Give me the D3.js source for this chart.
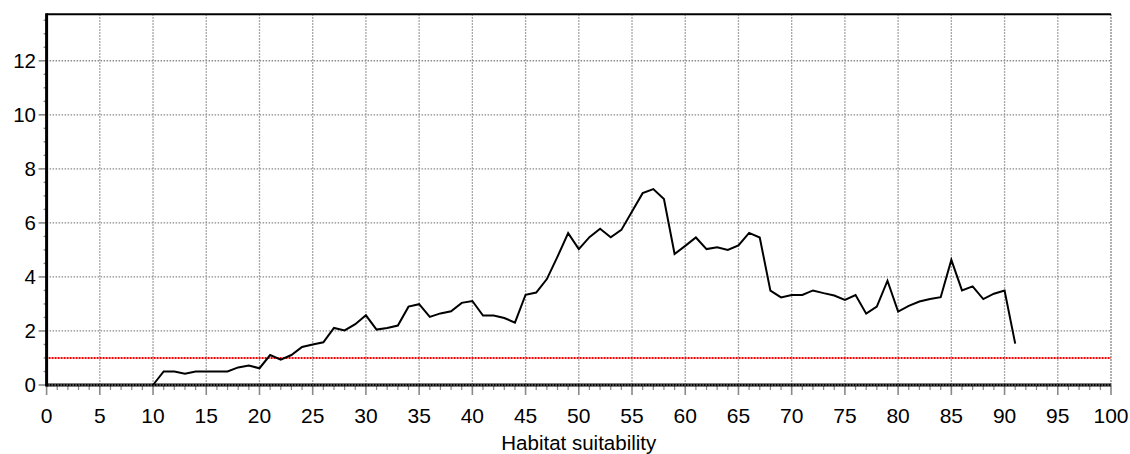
<!DOCTYPE html>
<html><head><meta charset="utf-8">
<script src="https://cdn.jsdelivr.net/npm/d3@7"></script>
<style>
html,body{margin:0;padding:0;background:#fff;}
svg{display:block;font-family:"Liberation Sans",Arial,sans-serif;}
</style></head>
<body>
<svg id="chart" width="1130" height="454"></svg>
<script>
// Data
const suitability = [10,11,12,13,14,15,16,17,18,19,20,21,22,23,24,25,26,27,28,29,30,31,32,33,34,35,36,37,38,39,40,41,42,43,44,45,46,47,48,49,50,51,52,53,54,55,56,57,58,59,60,61,62,63,64,65,66,67,68,69,70,71,72,73,74,75,76,77,78,79,80,81,82,83,84,85,86,87,88,89,90,91];
const ratio = [0,0.5,0.5,0.42,0.5,0.5,0.5,0.5,0.65,0.72,0.62,1.11,0.94,1.11,1.41,1.5,1.58,2.11,2.02,2.25,2.58,2.05,2.11,2.2,2.9,2.99,2.52,2.65,2.73,3.04,3.11,2.57,2.57,2.48,2.31,3.34,3.42,3.92,4.75,5.62,5.03,5.47,5.78,5.47,5.74,6.42,7.1,7.25,6.88,4.85,5.15,5.46,5.03,5.1,5.0,5.17,5.63,5.46,3.49,3.24,3.33,3.33,3.5,3.4,3.31,3.15,3.33,2.64,2.9,3.86,2.72,2.93,3.09,3.18,3.25,4.63,3.5,3.65,3.18,3.38,3.5,1.53];
const xTicks = [0,5,10,15,20,25,30,35,40,45,50,55,60,65,70,75,80,85,90,95,100];
const yTicks = [0,2,4,6,8,10,12];
const referenceLevel = 1;
const xLabel = "Habitat suitability";

const svg = d3.select("#chart");
const L = 46.6, R = 1111, T = 14.3, B = 385;
const x = d3.scaleLinear().domain([0,100]).range([L,R]);
const y = d3.scaleLinear().domain([0,13.72]).range([B,T]);
const gridColor = "#8a8a8a";

// vertical grid
svg.append("g").selectAll("line").data(xTicks.filter(d=>d>0)).join("line")
  .attr("x1",d=>x(d)).attr("x2",d=>x(d)).attr("y1",T).attr("y2",B)
  .attr("stroke",gridColor).attr("stroke-width",d=>d===100?1.8:1.3).attr("stroke-dasharray","1.5,1.5");
// horizontal grid
svg.append("g").selectAll("line").data(yTicks.filter(d=>d>0)).join("line")
  .attr("x1",L).attr("x2",R).attr("y1",d=>y(d)).attr("y2",d=>y(d))
  .attr("stroke",gridColor).attr("stroke-width",1.3).attr("stroke-dasharray","1.5,1.5");

// reference line
svg.append("line").attr("x1",L+2).attr("x2",R).attr("y1",y(referenceLevel)).attr("y2",y(referenceLevel))
  .attr("stroke","#ff0000").attr("stroke-width",2).attr("stroke-dasharray","2,1");

// x axis ticks
const minorX = d3.range(0,101,1);
svg.append("g").selectAll("line").data(minorX).join("line")
  .attr("x1",d=>x(d)).attr("x2",d=>x(d)).attr("y1",B)
  .attr("y2",d=>d%5===0?B+10:B+5)
  .attr("stroke",gridColor).attr("stroke-width",d=>d%5===0?1.6:1.2);
// y axis ticks
const minorY = d3.range(0,13.75,0.5);
svg.append("g").selectAll("line").data(minorY).join("line")
  .attr("y1",d=>y(d)).attr("y2",d=>y(d)).attr("x1",L)
  .attr("x2",d=>d%2===0?L-8:L-3)
  .attr("stroke",gridColor).attr("stroke-width",d=>d%2===0?1.6:1.4);

// axes lines
svg.append("line").attr("x1",L).attr("x2",R).attr("y1",B).attr("y2",B).attr("stroke","#000").attr("stroke-width",3);
svg.append("line").attr("x1",L+2).attr("x2",R).attr("y1",B).attr("y2",B).attr("stroke","#fff").attr("stroke-width",1).attr("stroke-dasharray","1,2");
svg.append("line").attr("x1",L).attr("x2",L).attr("y1",T-1).attr("y2",B+1.5).attr("stroke","#000").attr("stroke-width",3);
svg.append("line").attr("x1",L).attr("x2",R).attr("y1",T).attr("y2",T).attr("stroke","#000").attr("stroke-width",2);

// data line
const line = d3.line().x((d,i)=>x(suitability[i])).y(d=>y(d));
svg.append("path").datum(ratio).attr("d",line).attr("fill","none")
  .attr("stroke","#000").attr("stroke-width",2).attr("stroke-linejoin","miter");

// labels
svg.append("g").selectAll("text").data(xTicks).join("text")
  .attr("x",d=>x(d)).attr("y",423).attr("text-anchor","middle")
  .attr("font-size",21).attr("fill","#000").text(d=>d);
svg.append("g").selectAll("text").data(yTicks).join("text")
  .attr("x",36).attr("y",d=>y(d)).attr("dy","0.36em").attr("text-anchor","end")
  .attr("font-size",20.5).attr("fill","#000").text(d=>d);
svg.append("text").attr("x",x(50)).attr("y",450).attr("text-anchor","middle")
  .attr("font-size",20.5).attr("fill","#000").text(xLabel);
</script>
</body></html>
